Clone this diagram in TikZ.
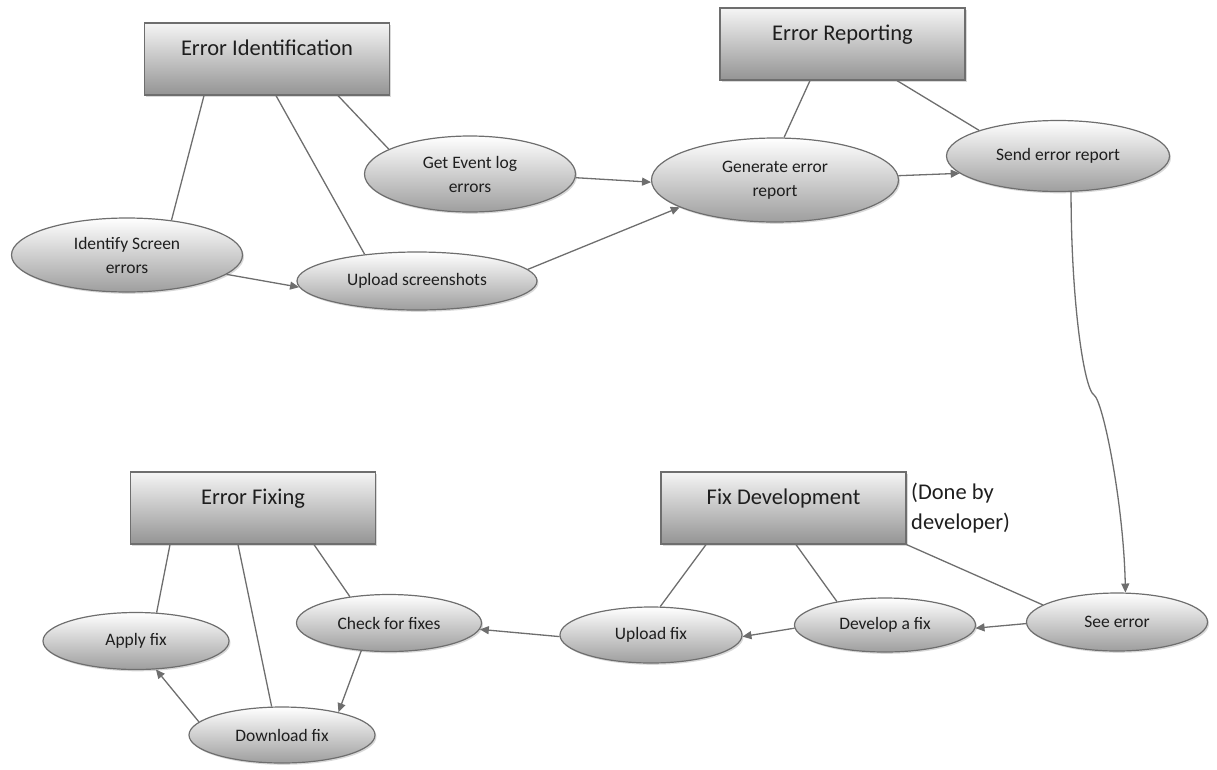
\documentclass[tikz,border=0pt]{standalone}
\usepackage{fontspec}
\setmainfont{Carlito}
\usetikzlibrary{shapes.geometric,arrows.meta,shadows}
\definecolor{edge}{HTML}{6E6E6E}
\definecolor{ink}{HTML}{1E1E1E}
\begin{document}
\begin{tikzpicture}[x=1pt,y=-1pt,
  softshadow/.style={drop shadow={shadow xshift=1.5pt,shadow yshift=-1.8pt,opacity=0.25,fill=black!60}},
  stage/.style={rectangle,draw=edge,line width=1.2pt,top color=black!4,bottom color=black!42,
    minimum width=245pt,inner sep=0pt,text height=32pt,text depth=40pt,
    font=\fontsize{22.5}{27}\selectfont,text=ink,softshadow},
  task/.style={ellipse,draw=edge,line width=1.2pt,top color=white,bottom color=black!38,
    inner sep=0pt,align=center,font=\fontsize{17.5}{24}\selectfont,text=ink,softshadow},
  link/.style={draw=edge,line width=1.3pt},
  flow/.style={link,-{Triangle[length=9pt,width=8pt]}}]
\useasboundingbox (0,0) rectangle (1217,769);

% phase boxes
\node[stage] (ident)   at (267,59)    {Error Identification};
\node[stage] (report)  at (842.5,44)  {Error Reporting};
\node[stage] (fixing)  at (253,508)   {Error Fixing};
\node[stage] (develop) at (783.5,508) {Fix Development};
\node[font=\fontsize{22.5}{30}\selectfont,text=ink,align=left,anchor=west,inner sep=0pt]
  (note) at (911,508) {(Done by\\developer)};

% activities
\node[task,minimum width=211pt,minimum height=76pt] (getlog)   at (470,174)  {Get Event log\\errors};
\node[task,minimum width=247pt,minimum height=84pt] (gen)      at (775,180)  {Generate error\\report};
\node[task,minimum width=223pt,minimum height=71pt] (send)     at (1058,156) {Send error report};
\node[task,minimum width=231pt,minimum height=74pt] (screen)   at (127,255)  {Identify Screen\\errors};
\node[task,minimum width=240pt,minimum height=58pt] (shots)    at (417,281)  {Upload screenshots};
\node[task,minimum width=186pt,minimum height=57pt] (apply)    at (136,641)  {Apply fix};
\node[task,minimum width=185pt,minimum height=57pt] (check)    at (389,623)  {Check for fixes};
\node[task,minimum width=186pt,minimum height=56pt] (download) at (282,735)  {Download fix};
\node[task,minimum width=182pt,minimum height=56pt] (upfix)    at (651,635)  {Upload fix};
\node[task,minimum width=181pt,minimum height=54pt] (devfix)   at (885,625)  {Develop a fix};
\node[task,minimum width=181pt,minimum height=58pt] (see)      at (1117,622) {See error};

% membership lines
\draw[link] ([xshift=-63pt]ident.south)    -- (screen.38);
\draw[link] ([xshift=9pt]ident.south)      -- (shots.153);
\draw[link] ([xshift=71pt]ident.south)     -- (getlog.163);
\draw[link] ([xshift=-32.5pt]report.south) -- (gen.78);
\draw[link] ([xshift=54.5pt]report.south)  -- (send.162);
\draw[link] ([xshift=-77.5pt]develop.south) -- (upfix.72);
\draw[link] ([xshift=12.5pt]develop.south) -- (devfix.154);
\draw[link] (develop.south east)           -- (see.167);
\draw[link] ([xshift=-83pt]fixing.south)   -- (apply.54);
\draw[link] ([xshift=-15pt]fixing.south)   -- (download.110);
\draw[link] ([xshift=61pt]fixing.south)    -- (check.146);

% process flow
\draw[flow] (screen.-11) -- (shots.183);
\draw[flow] (getlog.-2)  -- (gen.181);
\draw[flow] (shots.6)    -- (gen.196);
\draw[flow] (gen.2)      -- (send.190);
\draw[flow] (send.-70) .. controls +(0,110) and +(-10,-6) .. (1094,395)
                       .. controls +(9,6) and +(-2,-90) .. (see.74);
\draw[flow] (see.181)      -- (devfix.-2);
\draw[flow] (devfix.182)   -- (upfix.-1);
\draw[flow] (upfix.181)    -- (check.-4);
\draw[flow] (check.225)    -- (download.22);
\draw[flow] (download.171) -- (apply.-55);
\end{tikzpicture}
\end{document}
